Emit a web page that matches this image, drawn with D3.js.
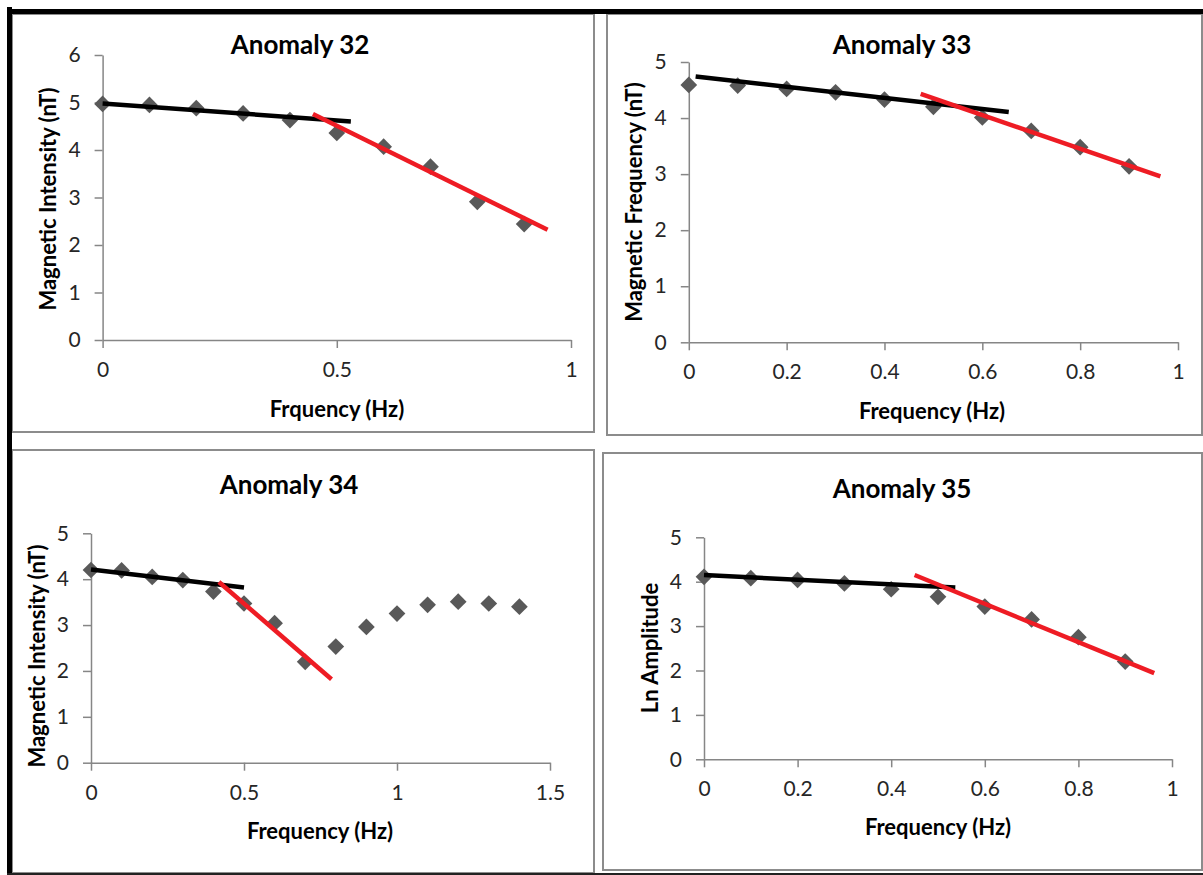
<!DOCTYPE html>
<html>
<head>
<meta charset="utf-8">
<script src="https://cdn.jsdelivr.net/npm/d3@7"></script>
<style>
  html, body { margin: 0; padding: 0; background: #fff; }
  svg { display: block; }
  .tick text { font-family: Lato, "Open Sans", sans-serif; fill: #262626; }
</style>
</head>
<body>
<svg id="chart" width="1203" height="875"></svg>
<script>
// ---------- DATA ----------
const freq10 = [0, 0.1, 0.2, 0.3, 0.4, 0.5, 0.6, 0.7, 0.8, 0.9];
const freq15 = [0, 0.1, 0.2, 0.3, 0.4, 0.5, 0.6, 0.7, 0.8, 0.9, 1.0, 1.1, 1.2, 1.3, 1.4];

const a32Values = [4.97, 4.95, 4.88, 4.77, 4.63, 4.36, 4.07, 3.65, 2.91, 2.44];
const a33Values = [4.59, 4.58, 4.52, 4.46, 4.33, 4.20, 4.01, 3.77, 3.48, 3.14];
const a34Values = [4.20, 4.19, 4.05, 3.98, 3.73, 3.47, 3.04, 2.20, 2.53, 2.96, 3.25, 3.44, 3.51, 3.47, 3.40];
const a35Values = [4.11, 4.08, 4.04, 3.96, 3.83, 3.66, 3.44, 3.15, 2.75, 2.20];

// fitted trend segments [x, y]
const a32Black = [[0, 4.98], [0.53, 4.60]];
const a32Red   = [[0.449, 4.76], [0.95, 2.32]];
const a33Black = [[0.014, 4.74], [0.654, 4.11]];
const a33Red   = [[0.474, 4.43], [0.964, 2.96]];
const a34Black = [[0, 4.21], [0.5, 3.82]];
const a34Red   = [[0.418, 3.94], [0.786, 1.82]];
const a35Black = [[0, 4.15], [0.537, 3.87]];
const a35Red   = [[0.45, 4.15], [0.962, 1.94]];

const titles  = ["Anomaly 32", "Anomaly 33", "Anomaly 34", "Anomaly 35"];
const xTitles = ["Frquency (Hz)", "Frequency (Hz)", "Frequency (Hz)", "Frequency (Hz)"];
const yTitles = ["Magnetic Intensity (nT)", "Magnetic Frequency (nT)", "Magnetic Intensity (nT)", "Ln Amplitude"];

const xTicks32 = [0, 0.5, 1];
const xTicks33 = [0, 0.2, 0.4, 0.6, 0.8, 1];
const xTicks34 = [0, 0.5, 1, 1.5];
const xTicks35 = [0, 0.2, 0.4, 0.6, 0.8, 1];
const yTicks32 = [0, 1, 2, 3, 4, 5, 6];
const yTicks5  = [0, 1, 2, 3, 4, 5];

// ---------- LAYOUT ----------
const panels = [
  { box: [12, 14, 594, 432], xr: [102.6, 571], yr: [340, 55], xd: [0, 1], yd: [0, 6],
    xs: freq10, ys: a32Values, black: a32Black, red: a32Red, xt: xTicks32, yt: yTicks32,
    title: [300, 54], xTitle: [337, 417], yTitle: [48, 199] },
  { box: [607, 14, 1202, 435], xr: [688.8, 1178], yr: [342.3, 62], xd: [0, 1], yd: [0, 5],
    xs: freq10, ys: a33Values, black: a33Black, red: a33Red, xt: xTicks33, yt: yTicks5,
    title: [902, 54], xTitle: [932, 419], yTitle: [634, 202] },
  { box: [12, 450, 594, 873], xr: [91, 550], yr: [762.7, 533.3], xd: [0, 1.5], yd: [0, 5],
    xs: freq15, ys: a34Values, black: a34Black, red: a34Red, xt: xTicks34, yt: yTicks5,
    title: [289, 494], xTitle: [320, 839], yTitle: [37, 656] },
  { box: [603, 453, 1202, 870], xr: [704, 1172], yr: [759.3, 537.3], xd: [0, 1], yd: [0, 5],
    xs: freq10, ys: a35Values, black: a35Black, red: a35Red, xt: xTicks35, yt: yTicks5,
    title: [902, 498], xTitle: [938, 835], yTitle: [650, 648] }
];

const svg = d3.select("#chart");
const AXIS = "#868686";
const FONT = "Lato, 'Open Sans', sans-serif";

panels.forEach((p, i) => {
  const g = svg.append("g");
  const [x0, y0, x1, y1] = p.box;
  g.append("rect").attr("x", x0).attr("y", y0).attr("width", x1 - x0).attr("height", y1 - y0)
    .attr("fill", "#fff").attr("stroke", "#8c8c8c").attr("stroke-width", 2);

  const x = d3.scaleLinear().domain(p.xd).range(p.xr);
  const y = d3.scaleLinear().domain(p.yd).range(p.yr);

  const xAxis = g.append("g").attr("transform", `translate(0,${p.yr[0]})`)
    .call(d3.axisBottom(x).tickValues(p.xt).tickFormat(d3.format("~g")).tickSize(8).tickSizeOuter(0).tickPadding(14));
  const yAxis = g.append("g").attr("transform", `translate(${p.xr[0]},0)`)
    .call(d3.axisLeft(y).tickValues(p.yt).tickFormat(d3.format("d")).tickSize(8).tickSizeOuter(0).tickPadding(14));
  [xAxis, yAxis].forEach(a => {
    a.select(".domain").attr("stroke", AXIS).attr("stroke-width", 1.5);
    a.selectAll(".tick line").attr("stroke", AXIS).attr("stroke-width", 1.5);
    a.selectAll(".tick text").attr("font-size", 21);
  });

  // points
  const pts = p.xs.map((v, k) => [v, p.ys[k]]);
  g.selectAll("path.pt").data(pts).enter().append("path").attr("class", "pt")
    .attr("d", d3.symbol().type(d3.symbolSquare).size(140)())
    .attr("transform", d => `translate(${x(d[0])},${y(d[1])}) rotate(45)`)
    .attr("fill", "#595959");

  const line = d3.line().x(d => x(d[0])).y(d => y(d[1]));
  g.append("path").datum(p.black).attr("d", line).attr("stroke", "#000").attr("stroke-width", 4.5).attr("fill", "none");
  g.append("path").datum(p.red).attr("d", line).attr("stroke", "#ee1c24").attr("stroke-width", 4.5).attr("fill", "none");

  g.append("text").attr("x", p.title[0]).attr("y", p.title[1]).attr("text-anchor", "middle")
    .attr("font-family", FONT).attr("font-weight", "bold").attr("font-size", 26).text(titles[i]);
  g.append("text").attr("x", p.xTitle[0]).attr("y", p.xTitle[1]).attr("text-anchor", "middle")
    .attr("font-family", FONT).attr("font-weight", "bold").attr("font-size", 22).text(xTitles[i]);
  g.append("text").attr("transform", `translate(${p.yTitle[0]},${p.yTitle[1]}) rotate(-90)`)
    .attr("text-anchor", "middle").attr("dy", "0.35em")
    .attr("font-family", FONT).attr("font-weight", "bold").attr("font-size", 22).text(yTitles[i]);
});

// outer black frame (top, left, bottom)
svg.append("rect").attr("x", 7).attr("y", 9).attr("width", 1196).attr("height", 5).attr("fill", "#000");
svg.append("rect").attr("x", 7).attr("y", 7).attr("width", 5).attr("height", 868).attr("fill", "#000");
svg.append("rect").attr("x", 7).attr("y", 873).attr("width", 1196).attr("height", 2).attr("fill", "#222");
</script>
</body>
</html>
